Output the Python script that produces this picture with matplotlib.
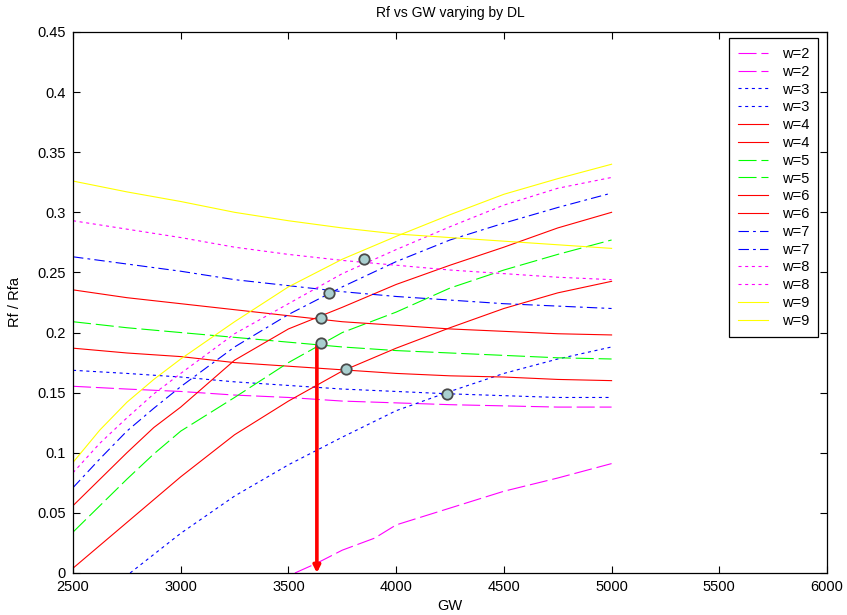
import matplotlib
matplotlib.use("Agg")
import matplotlib.pyplot as plt
import numpy as np

plt.rcParams['font.family'] = ['Liberation Sans', 'DejaVu Sans']
plt.rcParams['lines.scale_dashes'] = False

# GW grid for the falling branches
gw = [2500, 2750, 3000, 3250, 3500, 3750, 4000, 4250, 4500, 4750, 5000]
# finer grid at the start for the rising branches (they bend more there)
gw_r = [2500, 2625, 2750, 2875, 3000, 3250, 3500, 3750, 4000, 4250, 4500, 4750, 5000]

# falling branch of each w (Rf/Rfa)
dec_w2 = [0.1553, 0.153, 0.151, 0.148, 0.146, 0.143, 0.1415, 0.140, 0.139, 0.138, 0.138]
dec_w3 = [0.1686, 0.166, 0.163, 0.159, 0.156, 0.153, 0.151, 0.149, 0.1475, 0.146, 0.146]
dec_w4 = [0.187, 0.183, 0.180, 0.175, 0.172, 0.169, 0.166, 0.164, 0.163, 0.161, 0.160]
dec_w5 = [0.209, 0.204, 0.200, 0.196, 0.192, 0.188, 0.185, 0.183, 0.181, 0.179, 0.178]
dec_w6 = [0.2355, 0.229, 0.224, 0.219, 0.214, 0.209, 0.206, 0.203, 0.201, 0.199, 0.198]
dec_w7 = [0.263, 0.257, 0.251, 0.244, 0.239, 0.234, 0.230, 0.227, 0.224, 0.222, 0.220]
dec_w8 = [0.293, 0.286, 0.279, 0.271, 0.265, 0.260, 0.256, 0.252, 0.249, 0.246, 0.244]
dec_w9 = [0.326, 0.317, 0.309, 0.300, 0.293, 0.287, 0.282, 0.279, 0.276, 0.273, 0.270]

# rising branch of each w
inc_w4 = [0.004, 0.023, 0.042, 0.061, 0.080, 0.115, 0.143, 0.168, 0.187, 0.204, 0.220, 0.233, 0.2426]
inc_w5 = [0.034, 0.056, 0.078, 0.099, 0.118, 0.146, 0.175, 0.200, 0.217, 0.237, 0.252, 0.265, 0.277]
inc_w6 = [0.056, 0.078, 0.100, 0.121, 0.138, 0.177, 0.203, 0.221, 0.240, 0.256, 0.271, 0.287, 0.300]
inc_w7 = [0.071, 0.095, 0.118, 0.137, 0.155, 0.188, 0.215, 0.238, 0.259, 0.277, 0.291, 0.304, 0.316]
inc_w8 = [0.0834, 0.108, 0.129, 0.149, 0.166, 0.199, 0.224, 0.249, 0.269, 0.288, 0.306, 0.320, 0.329]
inc_w9 = [0.092, 0.119, 0.142, 0.161, 0.178, 0.209, 0.238, 0.261, 0.280, 0.298, 0.315, 0.328, 0.340]

# the two lowest rising curves start later
gw_w3 = [2765, 3000, 3250, 3500, 3750, 4000, 4250, 4500, 4750, 5000]
inc_w3 = [0.0, 0.033, 0.064, 0.090, 0.113, 0.135, 0.151, 0.166, 0.178, 0.188]
gw_w2 = [3530, 3630, 3750, 3900, 4000, 4250, 4500, 4750, 5000]
inc_w2 = [0.0, 0.008, 0.019, 0.029, 0.040, 0.054, 0.068, 0.079, 0.091]

# crossing points
cross_gw = [3849, 3688, 3651, 3651, 3766, 4237]
cross_rf = [0.2615, 0.233, 0.2125, 0.191, 0.170, 0.149]

arrow_gw = 3632
arrow_top = 0.189

dash = (0, (13, 3.5))
dot = (0, (2.2, 2.6))
dashdot = (0, (7.5, 3.0, 2.0, 3.0))

fig = plt.figure(figsize=(8.47, 6.15), dpi=100)
ax = fig.add_axes([0.0862, 0.0683, 0.8902, 0.8797])

lw = 0.8
curves = [
    ('w=2', gw_w2, inc_w2, dec_w2, (1, 0, 1), dash),
    ('w=3', gw_w3, inc_w3, dec_w3, (0, 0, 1), dot),
    ('w=4', gw_r, inc_w4, dec_w4, (1, 0, 0), '-'),
    ('w=5', gw_r, inc_w5, dec_w5, (0, 1, 0), dash),
    ('w=6', gw_r, inc_w6, dec_w6, (1, 0, 0), '-'),
    ('w=7', gw_r, inc_w7, dec_w7, (0, 0, 1), dashdot),
    ('w=8', gw_r, inc_w8, dec_w8, (1, 0, 1), dot),
    ('w=9', gw_r, inc_w9, dec_w9, (1, 1, 0), '-'),
]
for lab, xi, yi, yd, c, ls in curves:
    ax.plot(xi, yi, color=c, ls=ls, lw=lw, label=lab)
    ax.plot(gw, yd, color=c, ls=ls, lw=lw, label=lab)

ax.annotate('', xy=(arrow_gw, 0), xytext=(arrow_gw, arrow_top),
            arrowprops=dict(arrowstyle='-|>', color='red', lw=2.6,
                            mutation_scale=10, shrinkA=0, shrinkB=0),
            zorder=5)

ax.plot(cross_gw, cross_rf, 'o', ms=7.5, mfc='#a9cfcf', mec='#4a4a4a',
        mew=1.3, ls='none', zorder=6)

ax.set_xlim(2500, 6000)
ax.set_ylim(0, 0.45)
ax.set_xticks(np.arange(2500, 6001, 500))
ax.set_yticks(np.arange(0, 0.451, 0.05))
ax.set_yticklabels(['0', '0.05', '0.1', '0.15', '0.2', '0.25', '0.3', '0.35', '0.4', '0.45'])
ax.tick_params(direction='in', top=True, right=True, length=5, width=0.8,
               labelsize=10.5)
ax.tick_params(axis='y', pad=5)
ax.tick_params(axis='x', pad=5)
for s in ax.spines.values():
    s.set_linewidth(0.9)

ax.set_title('Rf vs GW varying by DL', fontsize=10, pad=11)
ax.set_xlabel('GW', fontsize=10.5, labelpad=4)
ax.set_ylabel('Rf / Rfa', fontsize=10.5, labelpad=11)

leg = ax.legend(loc='upper right', bbox_to_anchor=(0.988, 0.989), fontsize=10.5,
                frameon=True, fancybox=False, framealpha=1, edgecolor='black',
                handlelength=2.1, handletextpad=0.9, labelspacing=0.26,
                borderpad=0.62, borderaxespad=0)
leg.get_frame().set_linewidth(0.9)

fig.savefig('out.png', dpi=100)
